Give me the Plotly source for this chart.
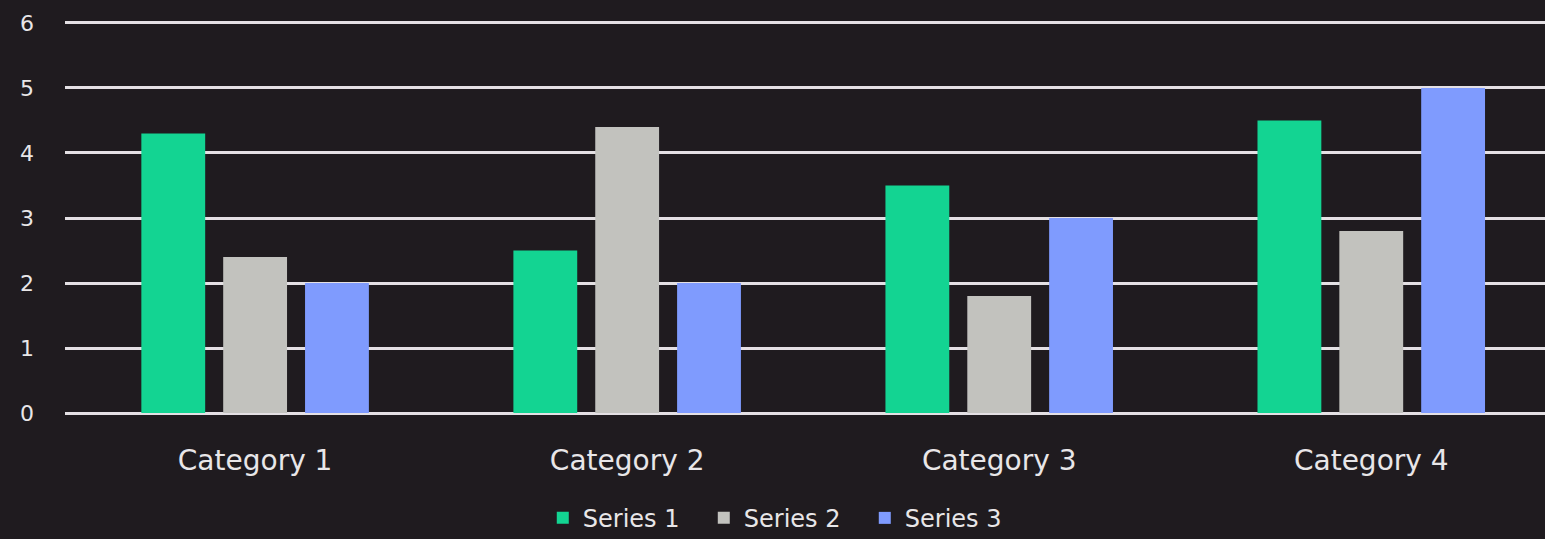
import plotly.graph_objects as go

categories = ["Category 1", "Category 2", "Category 3", "Category 4"]
series1 = [4.3, 2.5, 3.5, 4.5]
series2 = [2.4, 4.4, 1.8, 2.8]
series3 = [2.0, 2.0, 3.0, 5.0]
series_names = ["Series 1", "Series 2", "Series 3"]
colors = ["#13d492", "#c2c2be", "#7f9bfe"]

fig = go.Figure()
for name, vals, col in zip(series_names, [series1, series2, series3], colors):
    fig.add_trace(go.Bar(x=categories, y=vals, name=name, marker_color=col,
                         marker_line_width=0))

bg = "#1f1b1f"
fig.update_layout(
    width=1545, height=539,
    paper_bgcolor=bg, plot_bgcolor=bg,
    margin=dict(l=65, r=0, t=21, b=124, autoexpand=False),
    barmode="group", bargap=0.34, bargroupgap=0.22,
    font=dict(family="DejaVu Sans, sans-serif", color="#e8e6e8", size=22),
    showlegend=True,
    legend=dict(orientation="h", x=0.486, xanchor="center", y=-0.205, yanchor="top",
                font=dict(size=24, color="#e8e6e8"),
                entrywidth=116, entrywidthmode="pixels",
                bgcolor="rgba(0,0,0,0)", traceorder="normal"),
    xaxis=dict(range=[-0.511, 3.467], showgrid=False, zeroline=False, showline=False,
               ticks="", ticklabelstandoff=26, tickfont=dict(size=28)),
    yaxis=dict(range=[-0.03, 6.03], tickvals=[0, 1, 2, 3, 4, 5, 6],
               showgrid=True, gridcolor="#e4e0e4", gridwidth=3,
               zeroline=False, showline=False, ticks="", ticklabelstandoff=30,
               tickfont=dict(size=22)),
)
fig.write_html("out.html", config={"displayModeBar": False},
               post_script="document.body.style.margin='0';document.body.style.background='%s';" % bg)
